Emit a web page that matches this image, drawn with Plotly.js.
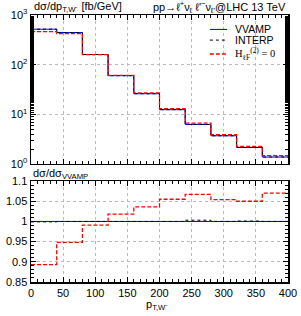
<!DOCTYPE html>
<html><head><meta charset="utf-8">
<script src="https://cdn.plot.ly/plotly-3.0.1.min.js"></script>
<style>html,body{margin:0;padding:0;background:#fff}#c{width:301px;height:316px}</style>
</head><body><div id="c"></div>
<script>
const binEdges = [0,40,80,120,160,200,240,280,320,360,400];
const vvamp = [518,443,160,60,26,12.4,6.25,3.7,2.15,1.38];
const ratioInterp = [0.999,1.0,1.0,1.0,1.0,1.0,1.003,1.0,1.001,1.0];
const ratioH0 = [0.893,0.948,0.991,1.018,1.036,1.055,1.067,1.054,1.05,1.07];
const ratioVvamp = [1,1,1,1,1,1,1,1,1,1];
const logTicks = [1,10,100,1000];
const logTickText = ['10<sup>0</sup>','10<sup>1</sup>','10<sup>2</sup>','10<sup>3</sup>'];
const ratioTicks = [0.85,0.9,0.95,1,1.05,1.1];
const ratioTickText = ['0.85','0.9','0.95','1','1.05','1.1'];

const interp = vvamp.map((v,i)=>v*ratioInterp[i]);
const h0 = vvamp.map((v,i)=>v*ratioH0[i]);
const step = a => a.concat([a[a.length-1]]);

const blue = {color:'#0000ff', width:1};
const black = {color:'#000000', width:1, dash:'dot'};
const red = {color:'#ff0000', width:1.3, dash:'4px,2px'};

const traces = [
 {x:binEdges, y:step(vvamp), mode:'lines', line:Object.assign({shape:'hv'},blue), xaxis:'x', yaxis:'y'},
 {x:binEdges, y:step(interp), mode:'lines', line:Object.assign({shape:'hv'},black), xaxis:'x', yaxis:'y'},
 {x:binEdges, y:step(h0), mode:'lines', line:Object.assign({shape:'hv'},red), xaxis:'x', yaxis:'y'},
 {x:binEdges, y:step(ratioVvamp), mode:'lines', line:Object.assign({shape:'hv'},blue), xaxis:'x2', yaxis:'y2'},
 {x:binEdges, y:step(ratioInterp), mode:'lines', line:Object.assign({shape:'hv'},black), xaxis:'x2', yaxis:'y2'},
 {x:binEdges, y:step(ratioH0), mode:'lines', line:Object.assign({shape:'hv'},red), xaxis:'x2', yaxis:'y2'}
];

const font = {family:'Liberation Sans, Arial, sans-serif', size:11, color:'#000'};
const legFont = {family:'Liberation Sans, Arial, sans-serif', size:10.5, color:'#000'};
const axCommon = {showline:true, linecolor:'#000', linewidth:1.5, mirror:'ticks', ticks:'inside', ticklen:5, tickcolor:'#000',
  showgrid:true, gridcolor:'#bbb', griddash:'dot', gridwidth:1, zeroline:false, tickfont:font};

// manual legend
const legY = [0.946, 0.906, 0.854];
const legX0 = 0.696, legX1 = 0.763, legTX = 0.786;
const legLines = [blue, black, red];
const legNames = ['VVAMP','INTERP','<span style="font-family:Liberation Serif">H<sub>ℓF</sub><sup>(2)</sup> = 0</span>'];
const shapes = legLines.map((ln,i)=>({type:'line', xref:'paper', yref:'paper', x0:legX0, x1:legX1, y0:legY[i], y1:legY[i], line:ln}));
const legAnn = legNames.map((t,i)=>({text:t, xref:'paper', yref:'paper', x:legTX, y:legY[i], xanchor:'left', yanchor:'middle', showarrow:false, font:legFont}));

const layout = {
 width:301, height:316, margin:{l:31, r:13, t:15, b:34}, showlegend:false,
 paper_bgcolor:'#fff', plot_bgcolor:'#fff', font:font,
 xaxis: Object.assign({}, axCommon, {domain:[0,1], range:[0,400], dtick:50, anchor:'y', showticklabels:false,
   minor:{ticklen:3, dtick:10, ticks:'inside', tickcolor:'#000', showgrid:false}}),
 yaxis: Object.assign({}, axCommon, {domain:[0.442,1], type:'log', range:[0,3], tickvals:logTicks, ticktext:logTickText, anchor:'x',
   minor:{ticklen:3, ticks:'inside', tickcolor:'#000', showgrid:false}}),
 xaxis2: Object.assign({}, axCommon, {domain:[0,1], range:[0,400], dtick:50, anchor:'y2',
   minor:{ticklen:3, dtick:10, ticks:'inside', tickcolor:'#000', showgrid:false}}),
 yaxis2: Object.assign({}, axCommon, {domain:[0,0.378], range:[0.85,1.1], anchor:'x2',
   tickvals:ratioTicks, ticktext:ratioTickText,
   minor:{ticklen:3, dtick:0.01, ticks:'inside', tickcolor:'#000', showgrid:false}}),
 shapes: shapes,
 annotations:[
  {text:'dσ/dp<sub>T,W⁻</sub> [fb/GeV]', xref:'paper', yref:'paper', x:0.005, y:1.03, xanchor:'left', yanchor:'middle', showarrow:false, font:font},
  {text:'pp→ℓ<sup>+</sup>ν<sub>ℓ</sub> ℓ\'<sup>−</sup>ν<sub>ℓ\'</sub>@LHC 13 TeV', xref:'paper', yref:'paper', x:1.0, y:1.03, xanchor:'right', yanchor:'middle', showarrow:false, font:font},
  {text:'dσ/dσ<sub>VVAMP</sub>', xref:'paper', yref:'paper', x:0, y:0.405, xanchor:'left', yanchor:'middle', showarrow:false, font:font},
  {text:'p<sub>T,W⁻</sub>', xref:'paper', yref:'paper', x:0.49, y:-0.088, xanchor:'center', yanchor:'middle', showarrow:false, font:font}
 ].concat(legAnn)
};
Plotly.newPlot('c', traces, layout, {displayModeBar:false, staticPlot:true});
</script></body></html>
